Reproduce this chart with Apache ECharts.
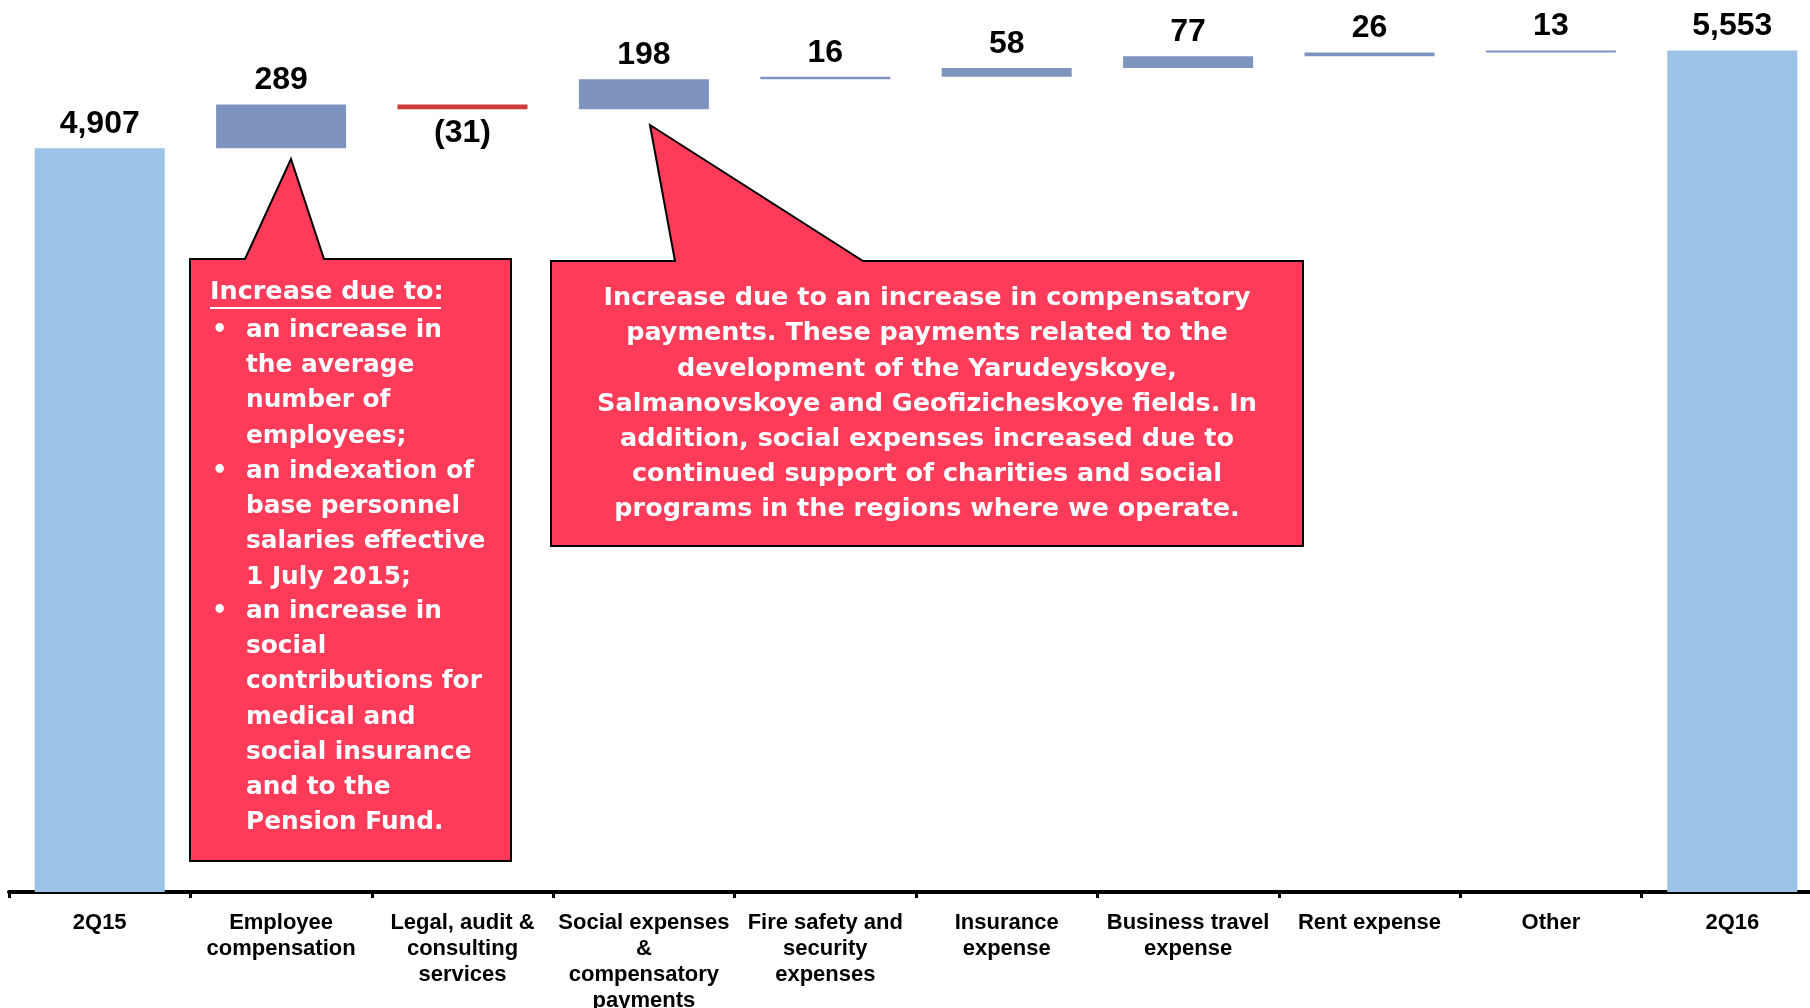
<!DOCTYPE html>
<html>
<head>
<meta charset="utf-8">
<style>
    html, body { margin: 0; padding: 0; background: #fff; }
    #opexChart { width: 1810px; height: 1008px; }
</style>
<script src="https://cdn.jsdelivr.net/npm/echarts@6/dist/echarts.min.js"></script>
</head>
<body>
<div id="opexChart"></div>
<script>
// data
const categories = [
    '2Q15', 'Employee\ncompensation', 'Legal, audit &\nconsulting\nservices',
    'Social expenses\n&\ncompensatory\npayments', 'Fire safety and\nsecurity\nexpenses',
    'Insurance\nexpense', 'Business travel\nexpense', 'Rent expense', 'Other', '2Q16'
];
const changes = [4907, 289, -31, 198, 16, 58, 77, 26, 13, 5553];
const isTotal = [true, false, false, false, false, false, false, false, false, true];

const noteEmployeeTitle = 'Increase due to:';
const noteEmployeeBullets = [
    'an increase in\nthe average\nnumber of\nemployees;',
    'an indexation of\nbase personnel\nsalaries effective\n1 July 2015;',
    'an increase in\nsocial\ncontributions for\nmedical and\nsocial insurance\nand to the\nPension Fund.'
];
const noteSocial = 'Increase due to an increase in compensatory\npayments. These payments related to the\n' +
    'development of the Yarudeyskoye,\nSalmanovskoye and Geofizicheskoye fields. In\n' +
    'addition, social expenses increased due to\ncontinued support of charities and social\n' +
    'programs in the regions where we operate.';

const c_total = '#9DC3E6';
const c_up = '#7F93BF';
const c_down = '#CF3A3A';
const c_note = '#FF3B5A';
const f_num = '"Liberation Sans", Arial, sans-serif';
const f_note = '"DejaVu Sans", sans-serif';

let Opex = {
    init() {
        this.chart = echarts.init(document.getElementById('opexChart'));
        this.waterfall();
    },
    // 瀑布图：透明底座 + 可见增量
    buildSeries() {
        let running = 0;
        let base = [], shown = [];
        changes.forEach((v, i) => {
            let text = v < 0 ? '(' + Math.abs(v) + ')' : v.toLocaleString('en-US');
            if (isTotal[i]) {
                base.push(0);
                running = v;
                shown.push({ value: v, itemStyle: { color: c_total }, label: { formatter: text } });
            } else if (v >= 0) {
                base.push(running);
                running += v;
                shown.push({ value: v, itemStyle: { color: c_up }, label: { formatter: text } });
            } else {
                running += v;
                base.push(running);
                shown.push({ value: -v, itemStyle: { color: c_down }, label: { position: 'bottom', formatter: text } });
            }
        });
        return { base, shown };
    },
    noteGraphics() {
        let g = [];
        // callout for employee compensation
        g.push({
            type: 'polygon', z: 10,
            shape: { points: [[190, 259], [245, 259], [291, 159], [324, 259], [511, 259], [511, 861], [190, 861]] },
            style: { fill: c_note, stroke: '#000', lineWidth: 2 }
        });
        g.push({
            type: 'text', z: 11, x: 210, y: 279,
            style: { text: noteEmployeeTitle, fill: '#fff', font: 'bold 25.5px ' + f_note, verticalAlign: 'top' }
        });
        g.push({
            type: 'line', z: 11,
            shape: { x1: 210, y1: 308, x2: 441, y2: 308 },
            style: { stroke: '#fff', lineWidth: 2 }
        });
        let tops = [313, 454, 594];
        noteEmployeeBullets.forEach((t, i) => {
            g.push({
                type: 'text', z: 11, x: 212, y: tops[i],
                style: { text: '•', fill: '#fff', font: 'bold 24px ' + f_note, lineHeight: 35, verticalAlign: 'top' }
            });
            g.push({
                type: 'text', z: 11, x: 246, y: tops[i],
                style: { text: t, fill: '#fff', font: 'bold 24.8px ' + f_note, lineHeight: 35.2, verticalAlign: 'top' }
            });
        });
        // callout for social expenses
        g.push({
            type: 'polygon', z: 10,
            shape: { points: [[551, 261], [675, 261], [650, 125], [863, 261], [1303, 261], [1303, 546], [551, 546]] },
            style: { fill: c_note, stroke: '#000', lineWidth: 2 }
        });
        g.push({
            type: 'text', z: 11, x: 927, y: 281,
            style: { text: noteSocial, fill: '#fff', font: 'bold 25.5px ' + f_note, lineHeight: 35.2, align: 'center', verticalAlign: 'top' }
        });
        return g;
    },
    waterfall() {
        let d = this.buildSeries();
        this.chart.setOption({
            animation: false,
            grid: { left: 9, width: 1814, top: 13, bottom: 116, outerBoundsMode: 'none', containLabel: false },
            xAxis: {
                type: 'category',
                data: categories,
                axisLine: { lineStyle: { color: '#000', width: 4 } },
                axisTick: { show: true, length: 6, lineStyle: { color: '#000', width: 3 } },
                axisLabel: {
                    interval: 0, margin: 18, lineHeight: 26,
                    color: '#000', fontFamily: f_num, fontWeight: 'bold', fontSize: 22
                }
            },
            yAxis: { type: 'value', min: 0, max: 5800, show: false, splitLine: { show: false } },
            series: [{
                name: 'base', type: 'bar', stack: 'w', barWidth: 130, silent: true,
                itemStyle: { color: 'transparent' },
                data: d.base
            }, {
                name: 'change', type: 'bar', stack: 'w', barWidth: 130,
                label: {
                    show: true, position: 'top', distance: 8,
                    color: '#000', fontFamily: f_num, fontWeight: 'bold', fontSize: 32
                },
                data: d.shown
            }],
            graphic: this.noteGraphics()
        });
    }
};
Opex.init();
</script>
</body>
</html>
